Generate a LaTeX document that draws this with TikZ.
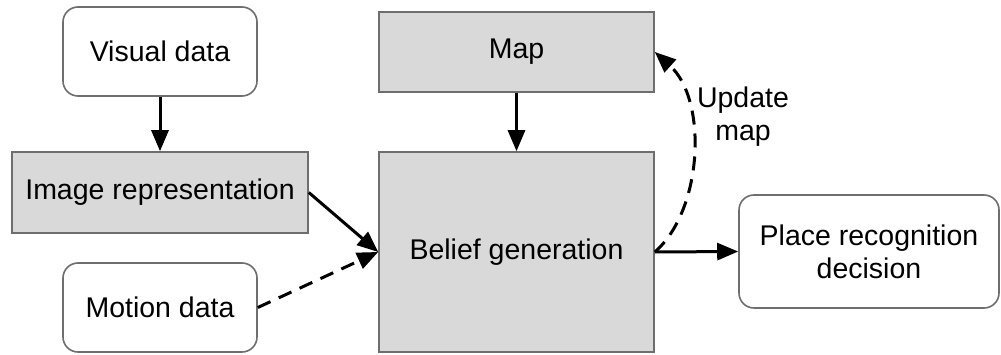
\documentclass[tikz,border=0pt]{standalone}
\usepackage{fontspec}
\setmainfont{Liberation Sans}
\usetikzlibrary{arrows.meta}
\definecolor{boxfill}{HTML}{D9D9D9}
\definecolor{boxline}{HTML}{6E6E6E}
\begin{document}
\begin{tikzpicture}[x=1pt,y=-1pt,
  font=\fontsize{28.5}{33}\selectfont,
  base/.style={draw=boxline,line width=1.6pt,inner sep=0pt,align=center},
  roundbox/.style={base,fill=white,rounded corners=15pt},
  greybox/.style={base,fill=boxfill},
  flow/.style={line width=3pt,-{Triangle[length=21pt,width=17pt]}},
  dashflow/.style={flow,dash pattern=on 14pt off 9pt}]
\useasboundingbox (0,0) rectangle (1001,355);

\node[roundbox,minimum width=194pt,minimum height=89pt] (vis) at (160,51.5) {Visual data};
\node[greybox,minimum width=296pt,minimum height=81pt] (img) at (160,192.5) {Image representation};
\node[roundbox,minimum width=194pt,minimum height=89pt] (mot) at (160,307.5) {Motion data};
\node[greybox,minimum width=275pt,minimum height=80pt] (map) at (516.5,52) {Map};
\node[greybox,minimum width=275pt,minimum height=200pt] (bel) at (516.5,252) {Belief generation};
\node[roundbox,minimum width=260pt,minimum height=113pt] (plc) at (869,251.5) {Place recognition\\decision};

\draw[flow] (vis) -- (img);
\draw[flow] (map) -- (bel);
\draw[flow] (img.east) -- (bel.west);
\draw[dashflow] (mot.east) -- (bel.west);
\draw[flow] (bel.east) -- (plc.west);
\draw[dashflow] (bel.east) .. controls (703,210) and (708,100) .. (map.east);
\node[align=center] (upd) at (743,117) {Update\\map};
\end{tikzpicture}
\end{document}
